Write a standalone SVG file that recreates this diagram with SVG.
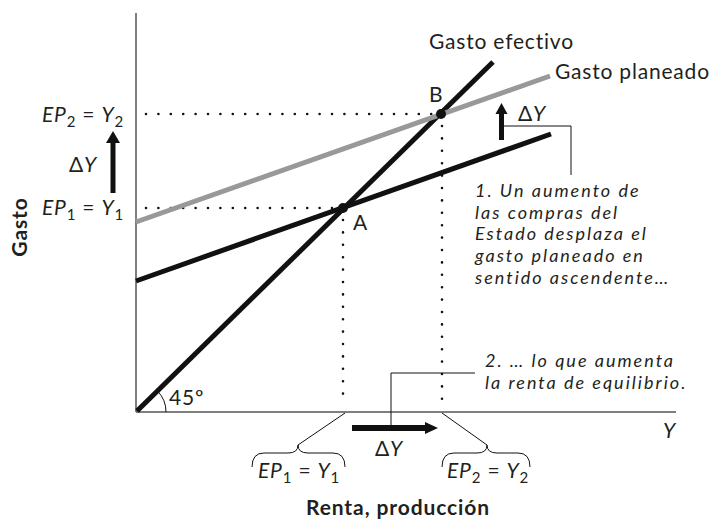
<svg xmlns="http://www.w3.org/2000/svg" width="719" height="521" viewBox="0 0 719 521">
<style>
text{font-family:"Lato","Open Sans","DejaVu Sans",sans-serif;fill:#231f20;font-size:21px;letter-spacing:0.8px}
.it{font-style:italic}
.b{font-weight:bold;font-size:21px;letter-spacing:0.9px}
.note{font-style:italic;font-size:18px;letter-spacing:2px}
.sub{font-size:15px}
.axis{stroke:#555;stroke-width:1.5;fill:none}
.curve{stroke:#111;stroke-width:5;fill:none}
.gray{stroke:#999;stroke-width:5;fill:none}
.dot{stroke:#111;stroke-width:2.6;stroke-linecap:round;stroke-dasharray:0 12.4;fill:none}
.thin{stroke:#111;stroke-width:1;fill:none}
.arr{fill:#111}
</style>
<g id="axes">
<line class="axis" x1="136" y1="13" x2="136" y2="412"/>
<line class="axis" x1="136" y1="412" x2="676" y2="412"/>
<text x="663" y="438" class="it">Y</text>
<text x="398" y="515" class="b" text-anchor="middle">Renta, producción</text>
<text transform="translate(27,227) rotate(-90)" class="b" text-anchor="middle">Gasto</text>
</g>
<g id="guides">
<line class="dot" x1="146" y1="208" x2="338" y2="208"/>
<line class="dot" x1="146" y1="114" x2="436" y2="114"/>
<line class="dot" x1="343" y1="220" x2="343" y2="402"/>
<line class="dot" x1="442" y1="126" x2="442" y2="402"/>
</g>
<g id="gasto-efectivo">
<line class="curve" x1="137" y1="411" x2="493" y2="62"/>
<path class="thin" d="M166,412 A30,30 0 0 0 157.5,391"/>
<text x="169" y="405">45º</text>
<text x="429" y="49">Gasto efectivo</text>
</g>
<g id="gasto-planeado-1">
<line class="curve" x1="136" y1="281" x2="551" y2="134"/>
</g>
<g id="gasto-planeado-2">
<line class="gray" x1="136" y1="222" x2="550" y2="76"/>
<text x="555" y="79">Gasto planeado</text>
</g>
<g id="point-A">
<circle cx="343" cy="208" r="5" fill="#111"/>
<text x="353" y="230">A</text>
</g>
<g id="point-B">
<circle cx="441" cy="114" r="5" fill="#111"/>
<text x="429" y="102">B</text>
</g>
<g id="label-EP2">
<text x="124" y="122" text-anchor="end"><tspan class="it">EP</tspan><tspan class="sub" dy="5">2</tspan><tspan dy="-5"> = </tspan><tspan class="it">Y</tspan><tspan class="sub" dy="5">2</tspan></text>
</g>
<g id="label-EP1">
<text x="124" y="215" text-anchor="end"><tspan class="it">EP</tspan><tspan class="sub" dy="5">1</tspan><tspan dy="-5"> = </tspan><tspan class="it">Y</tspan><tspan class="sub" dy="5">1</tspan></text>
</g>
<g id="arrow-left">
<rect class="arr" x="110.5" y="141" width="5" height="52"/>
<polygon class="arr" points="106,143 113,131 120,143"/>
<text x="69" y="172">Δ<tspan class="it">Y</tspan></text>
</g>
<g id="arrow-right">
<rect class="arr" x="499" y="112" width="5" height="28"/>
<polygon class="arr" points="495.5,114 501.5,103 507.5,114"/>
<text x="518" y="121">Δ<tspan class="it">Y</tspan></text>
</g>
<g id="arrow-bottom">
<rect class="arr" x="352" y="425" width="75" height="6"/>
<polygon class="arr" points="425,422 438,428 425,434"/>
<text x="375" y="456">Δ<tspan class="it">Y</tspan></text>
</g>
<g id="note-1">
<text class="note"><tspan x="475" y="197">1. Un aumento de</tspan><tspan x="475" y="218.7">las compras del</tspan><tspan x="475" y="240.4">Estado desplaza el</tspan><tspan x="475" y="262.1">gasto planeado en</tspan><tspan x="475" y="283.8">sentido ascendente…</tspan></text>
</g>
<g id="note-2">
<text class="note"><tspan x="485" y="367">2. … lo que aumenta</tspan><tspan x="485" y="389">la renta de equilibrio.</tspan></text>
</g>
<g id="brace-1">
<path class="thin" d="M252,467 Q252,453 264,453 L288,453 Q298,453 298,445 Q298,453 308,453 L333,453 Q345,453 345,467"/>
<text x="258" y="478"><tspan class="it">EP</tspan><tspan class="sub" dy="5">1</tspan><tspan dy="-5"> = </tspan><tspan class="it">Y</tspan><tspan class="sub" dy="5">1</tspan></text>
</g>
<g id="brace-2">
<path class="thin" d="M442,467 Q442,453 454,453 L477,453 Q487,453 487,445 Q487,453 497,453 L518,453 Q530,453 530,467"/>
<text x="447" y="478"><tspan class="it">EP</tspan><tspan class="sub" dy="5">2</tspan><tspan dy="-5"> = </tspan><tspan class="it">Y</tspan><tspan class="sub" dy="5">2</tspan></text>
</g>
<g id="connectors">
<polyline class="thin" points="504,126 571,126 571,175"/>
<polyline class="thin" points="391,428 391,373 475,373"/>
<line class="thin" x1="345" y1="413" x2="298" y2="445"/>
<line class="thin" x1="442" y1="413" x2="487" y2="445"/>
</g>
</svg>
